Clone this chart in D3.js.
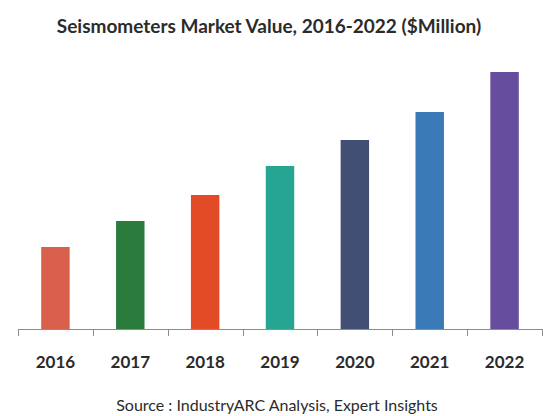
<!DOCTYPE html>
<html>
<head>
<meta charset="utf-8">
<script src="https://cdn.jsdelivr.net/npm/d3@7"></script>
<style>
  html, body { margin: 0; padding: 0; background: #fff; }
  svg { display: block; }
  text { font-family: Lato, "Open Sans", sans-serif; fill: #2b2b2b; }
</style>
</head>
<body>
<svg id="chart" width="543" height="416"></svg>
<script>
// Market value by year ($Million)
const years = ["2016", "2017", "2018", "2019", "2020", "2021", "2022"];
const values = [82, 108, 134, 163, 189, 217, 257];
const barColors = ["#d8604c", "#2a7b3c", "#e24b26", "#27a593", "#414f75", "#3a7ab6", "#664d9e"];

const titleText = "Seismometers Market Value, 2016-2022 ($Million)";
const sourceText = "Source : IndustryARC Analysis, Expert Insights";

const svg = d3.select("#chart");
const plot = { left: 18, right: 542, top: 72, bottom: 329 };

const x = d3.scaleBand()
  .domain(years)
  .range([plot.left, plot.right])
  .paddingInner(0.62)
  .paddingOuter(0.31);

const y = d3.scaleLinear()
  .domain([0, 257])
  .range([plot.bottom, plot.top]);

// bars
svg.append("g")
  .selectAll("rect")
  .data(years.map((yr, i) => ({ yr, v: values[i], c: barColors[i] })))
  .join("rect")
  .attr("x", d => x(d.yr))
  .attr("y", d => y(d.v))
  .attr("width", x.bandwidth())
  .attr("height", d => y(0) - y(d.v))
  .attr("fill", d => d.c);

// category axis with ticks between categories
const axisG = svg.append("g").attr("transform", `translate(0,${plot.bottom})`);
axisG.append("line")
  .attr("x1", plot.left).attr("x2", plot.right)
  .attr("y1", 0.5).attr("y2", 0.5)
  .attr("stroke", "#8c8c8c").attr("stroke-width", 1);

const boundaries = d3.range(years.length + 1).map(i => plot.left + i * (plot.right - plot.left) / years.length);
axisG.selectAll("line.tick")
  .data(boundaries)
  .join("line")
  .attr("class", "tick")
  .attr("x1", d => Math.round(d) + 0.5).attr("x2", d => Math.round(d) + 0.5)
  .attr("y1", 0).attr("y2", 7)
  .attr("stroke", "#8c8c8c").attr("stroke-width", 1);

axisG.selectAll("text.year")
  .data(years)
  .join("text")
  .attr("class", "year")
  .attr("x", d => x(d) + x.bandwidth() / 2)
  .attr("y", 39)
  .attr("text-anchor", "middle")
  .style("font-size", "17px")
  .style("font-weight", "bold")
  .text(d => d);

// title
svg.append("text")
  .attr("x", 269)
  .attr("y", 33)
  .attr("text-anchor", "middle")
  .style("font-size", "19px")
  .style("font-weight", "bold")
  .text(titleText);

// source note
svg.append("text")
  .attr("x", 277)
  .attr("y", 411)
  .attr("text-anchor", "middle")
  .style("font-size", "16px")
  .text(sourceText);
</script>
</body>
</html>
